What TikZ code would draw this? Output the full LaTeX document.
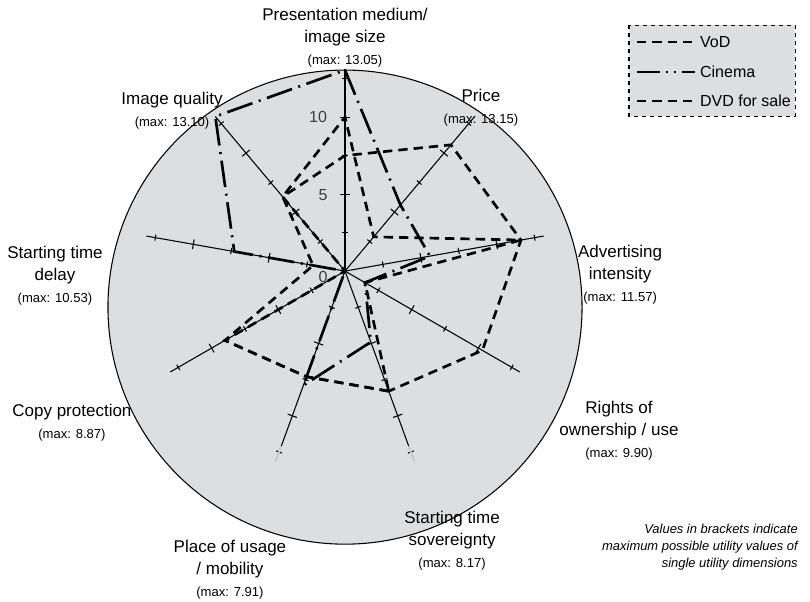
\documentclass[tikz,border=0pt]{standalone}
\usepackage{fontspec}
\setmainfont{Liberation Sans}
\usetikzlibrary{calc}
\definecolor{discgrey}{RGB}{221,222,224}
\definecolor{numgrey}{RGB}{60,60,60}
\tikzset{
  axis/.style={line width=0.8pt},
  vod/.style={line width=2pt, dash pattern=on 7pt off 4.5pt},
  dvd/.style={line width=2pt, dash pattern=on 7pt off 4.5pt},
  cinema/.style={line width=2pt, dash pattern=on 20pt off 5pt on 1.5pt off 5pt},
  dimlabel/.style={align=center, font=\fontsize{12.75}{16.5}\selectfont},
  scalenum/.style={text=numgrey, font=\fontsize{12}{14}\selectfont},
  legtext/.style={anchor=west, font=\fontsize{12}{14}\selectfont},
}
\newcommand{\maxnote}[1]{{\fontsize{9.8}{12}\selectfont (max: #1)}}

\begin{document}
\begin{tikzpicture}[x=11.55pt,y=11.55pt]
  \useasboundingbox (-22.40,-21.43) rectangle (30.19,17.60);
  \draw[fill=discgrey, line width=0.8pt] (0,-2.34) circle (15.39);
  \coordinate (o) at (0,0);
  \foreach \a/\n in {90/pres,50/price,10/adv,-30/rights,-70/sov,-110/place,-150/copy,170/delay,130/image}
  {
    \draw[axis] (o) -- (\a:13.1) coordinate (end-\n);
    \foreach \t in {2.5,7.5,12.5}
      \draw[axis] ($(\a:\t)+(\a+90:.2)$) -- ($(\a:\t)+(\a-90:.2)$);
    \foreach \t in {5,10}
      \draw[axis] ($(\a:\t)+(\a+90:.32)$) -- ($(\a:\t)+(\a-90:.32)$);
  }
  \draw[line width=1.6pt] (o) -- (end-pres);
  \draw[line width=1.4pt, gray!40] (-70:12.1) -- (end-sov);
  \draw[line width=1.4pt, gray!40] (-110:12.1) -- (end-place);

  \node[scalenum] (n10) at (-1.75,10) {10};
  \node[scalenum] (n5) at (-1.43,4.94) {5};
  \node[scalenum] (n0) at (-1.43,-0.39) {0};

  \foreach \a/\r [count=\i] in {90/10,50/2.9,10/11.6,-30/1.5,-70/8.3,-110/7.3,-150/9.0,170/2.1,130/6.3}
    \coordinate (v\i) at (\a:\r);
  \foreach \a/\r [count=\i] in {90/7.5,50/10.7,10/11.6,-30/10.3,-70/8.3,-110/7.3,-150/9.0,170/0,130/6.3}
    \coordinate (d\i) at (\a:\r);
  \foreach \a/\r [count=\i] in {90/13.05,50/5.6,10/5.6,-30/1.5,-70/4.9,-110/7.9,-150/0,170/7.3,130/13.1}
    \coordinate (c\i) at (\a:\r);
  \draw[vod] (v5) -- (v6) -- (v7) -- (v8) -- (v9) -- (v1) -- (v2) -- (v3) -- (v4) -- cycle;
  \draw[dvd] (d5) -- (d6) -- (d7) -- (d8) -- (d9) -- (d1) -- (d2) -- (d3) -- (d4) -- cycle;
  \draw[cinema] (c1) -- (c2) -- (c3) -- (c4) -- (c5) -- (c6) -- (c7) -- (c8) -- (c9) -- cycle;

  \node[dimlabel] (lbl-pres) at (0,15.16) {Presentation medium/\\image size\\\maxnote{13.05}};
  \node[dimlabel] (lbl-price) at (8.83,10.62) {Price\\\maxnote{13.15}};
  \node[dimlabel] (lbl-adv) at (17.86,-0.26) {Advertising\\intensity\\\maxnote{11.57}};
  \node[dimlabel] (lbl-rights) at (17.79,-10.36) {Rights of\\ownership / use\\\maxnote{9.90}};
  \node[dimlabel] (lbl-sov) at (6.95,-17.5) {Starting time\\sovereignty\\\maxnote{8.17}};
  \node[dimlabel] (lbl-place) at (-7.47,-19.42) {Place of usage\\/ mobility\\\maxnote{7.91}};
  \node[dimlabel] (lbl-copy) at (-17.73,-9.87) {Copy protection\\\maxnote{8.87}};
  \node[dimlabel] (lbl-delay) at (-18.83,-0.29) {Starting time\\delay\\\maxnote{10.53}};
  \node[dimlabel] (lbl-image) at (-11.23,10.39) {Image quality\\\maxnote{13.10}};

  \draw[dashed, line width=0.8pt, fill=discgrey] (18.44,15.97) rectangle (29.22,10.06);
  \node[legtext] (leg-vod) at (22.75,14.87) {VoD};
  \node[legtext] (leg-cin) at (22.75,12.92) {Cinema};
  \node[legtext] (leg-dvd) at (22.75,11.04) {DVD for sale};
  \coordinate (leg-vod-a) at (18.96,14.87);
  \coordinate (leg-cin-a) at (18.96,12.92);
  \coordinate (leg-dvd-a) at (18.96,11.04);
  \draw[vod] (leg-vod-a) -- (leg-vod.west);
  \draw[line width=2pt, dash pattern=on 17pt off 4.5pt on 1.5pt off 4.5pt on 1.5pt off 4.5pt on 12pt off 0pt] (leg-cin-a) -- (leg-cin.west);
  \draw[dvd] (leg-dvd-a) -- (leg-dvd.west);

  \node[anchor=east, align=right, font=\fontsize{9.7}{12.75}\selectfont\itshape] (note) at (29.7,-17.92)
    {Values in brackets indicate\\maximum possible utility values of\\single utility dimensions};
\end{tikzpicture}
\end{document}
